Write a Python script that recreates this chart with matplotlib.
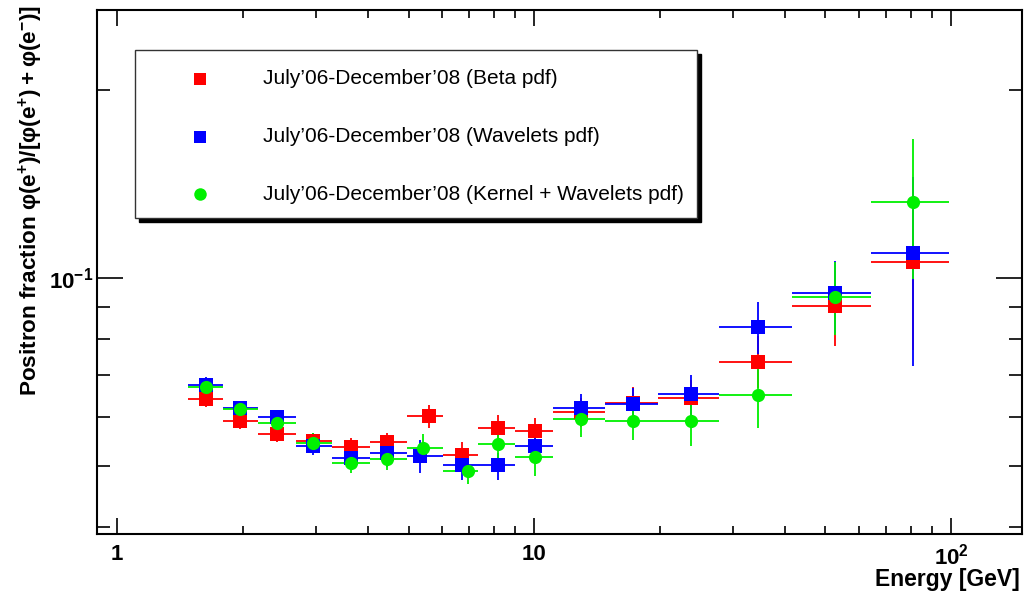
import numpy as np
import matplotlib
matplotlib.use('Agg')
import matplotlib.pyplot as plt
from matplotlib.lines import Line2D
from matplotlib.patches import Rectangle
from matplotlib.ticker import FixedLocator, NullFormatter

plt.rcParams['font.family'] = ['Liberation Sans', 'DejaVu Sans']
plt.rcParams['mathtext.fontset'] = 'custom'
plt.rcParams['mathtext.rm'] = 'Liberation Sans'
plt.rcParams['mathtext.bf'] = 'Liberation Sans:bold'

# energy bin edges [GeV]
bin_edges = [1.48, 1.79, 2.18, 2.69, 3.28, 4.04, 4.96, 6.05, 7.34, 9.0,
             11.1, 14.8, 19.8, 27.8, 41.5, 64.3, 98.9]

# Beta pdf
beta_x = [1.63, 1.97, 2.42, 2.95, 3.64, 4.44, 5.60, 6.72, 8.20, 10.06,
          12.96, 17.28, 23.8, 34.45, 52.7, 81.1]
beta_y = [0.0640, 0.0590, 0.0563, 0.0549, 0.0537, 0.0547, 0.0601, 0.0521,
          0.0575, 0.0569, 0.0610, 0.0631, 0.0643, 0.0734, 0.0902, 0.1061]
beta_lo = [0.0622, 0.0573, 0.0547, 0.0537, 0.0517, 0.0531, 0.0575, 0.0497,
           0.0551, 0.0543, 0.0578, 0.0595, 0.0601, 0.0667, 0.0778, 0.0767]
beta_hi = [0.0655, 0.0604, 0.0575, 0.0563, 0.0555, 0.0565, 0.0626, 0.0547,
           0.0604, 0.0597, 0.0643, 0.0669, 0.0687, 0.0808, 0.1026, 0.1383]

# Wavelets pdf
wav_x = [1.63, 1.97, 2.42, 2.95, 3.64, 4.44, 5.33, 6.72, 8.20, 10.06,
         12.96, 17.28, 23.8, 34.45, 52.7, 81.1]
wav_y = [0.0674, 0.0619, 0.0599, 0.0539, 0.0515, 0.0525, 0.0519, 0.0502,
         0.0502, 0.0539, 0.0619, 0.0629, 0.0652, 0.0835, 0.0946, 0.1096]
wav_lo = [0.0655, 0.0604, 0.0584, 0.0521, 0.0493, 0.0498, 0.0488, 0.0475,
          0.0475, 0.0511, 0.0588, 0.0593, 0.0601, 0.0756, 0.0817, 0.0723]
wav_hi = [0.0694, 0.0636, 0.0615, 0.0565, 0.0525, 0.0537, 0.0551, 0.0521,
          0.0525, 0.0573, 0.0652, 0.0667, 0.0699, 0.0915, 0.1065, 0.1451]

# Kernel + Wavelets pdf
ker_x = [1.63, 1.97, 2.42, 2.95, 3.64, 4.44, 5.42, 6.95, 8.20, 10.06,
         12.96, 17.28, 23.8, 34.45, 52.7, 81.1]
ker_y = [0.0669, 0.0617, 0.0586, 0.0545, 0.0506, 0.0513, 0.0535, 0.0491,
         0.0543, 0.0517, 0.0595, 0.0590, 0.0590, 0.0650, 0.0932, 0.1323]
ker_lo = [0.0655, 0.0604, 0.0573, 0.0531, 0.0488, 0.0493, 0.0508, 0.0468,
          0.0513, 0.0482, 0.0557, 0.0551, 0.0539, 0.0575, 0.0811, 0.0996]
ker_hi = [0.0684, 0.0631, 0.0601, 0.0565, 0.0525, 0.0533, 0.0563, 0.0511,
          0.0569, 0.0547, 0.0626, 0.0626, 0.0633, 0.0720, 0.1061, 0.1669]

labels = ["July’06-December’08 (Beta pdf)",
          "July’06-December’08 (Wavelets pdf)",
          "July’06-December’08 (Kernel + Wavelets pdf)"]

W, H = 1029, 594
fig = plt.figure(figsize=(W / 100, H / 100), dpi=100)
ax = fig.add_axes([97 / W, 1 - 534 / H, (1022 - 97) / W, (534 - 10) / H])
ax.set_xscale('log')
ax.set_yscale('log')
ax.set_xlim(0.895, 148)
ax.set_ylim(0.03894, 0.2685)

lo_e = np.array(bin_edges[:-1])
hi_e = np.array(bin_edges[1:])

series = [
    (beta_x, beta_y, beta_lo, beta_hi, '#ff0000', 's'),
    (wav_x, wav_y, wav_lo, wav_hi, '#0000ff', 's'),
    (ker_x, ker_y, ker_lo, ker_hi, '#00f000', 'o'),
]
for x, y, ylo, yhi, col, mk in series:
    x = np.array(x)
    y = np.array(y)
    xerr = [x - lo_e, hi_e - x]
    yerr = [y - np.array(ylo), np.array(yhi) - y]
    ax.errorbar(x, y, xerr=xerr, yerr=yerr, fmt=mk, color=col, ms=9.5,
                elinewidth=1.3, capsize=1.8, capthick=1.3, mew=0)

# axes / ticks in ROOT style
for sp in ax.spines.values():
    sp.set_linewidth(1.5)
ax.xaxis.set_major_locator(FixedLocator([1, 10, 100]))
ax.xaxis.set_minor_locator(FixedLocator([2, 3, 4, 5, 6, 7, 8, 9,
                                         20, 30, 40, 50, 60, 70, 80, 90]))
ax.yaxis.set_major_locator(FixedLocator([0.1]))
ax.yaxis.set_minor_locator(FixedLocator([0.04, 0.05, 0.06, 0.07, 0.08, 0.09, 0.2]))
ax.xaxis.set_minor_formatter(NullFormatter())
ax.yaxis.set_minor_formatter(NullFormatter())
ax.set_xticklabels(['1', '10', r'$\mathbf{10^{2}}$'])
ax.set_yticklabels([r'$\mathbf{10^{-1}}$'])
ax.tick_params(which='both', direction='in', top=True, right=True, width=1.2)
ax.tick_params(axis='x', which='major', length=11.5, pad=7, labelsize=16)
ax.tick_params(axis='x', which='minor', length=5.5)
ax.tick_params(axis='y', which='major', length=19, pad=3, labelsize=16)
ax.tick_params(axis='y', which='minor', length=9.5)
for t in ax.get_xticklabels() + ax.get_yticklabels():
    t.set_fontweight('bold')

# axis titles
fig.text(1020 / W, 1 - 586 / H, 'Energy [GeV]', ha='right', va='baseline',
         fontsize=16.5, fontweight='bold')
fig.text(31 / W, 1 - 5 / H,
         'Positron fraction $\\mathbf{φ(e^{+})/[φ(e^{+})+φ(e^{-})]}$',
         rotation=90, ha='center', va='top', fontsize=16.2, fontweight='bold')

# legend box with shadow
bx0, by0, bx1, by1 = 135, 50, 697, 218
fig.patches.append(Rectangle(((bx0 + 4) / W, 1 - (by1 + 4) / H), (bx1 - bx0) / W,
                             (by1 - by0) / H, transform=fig.transFigure,
                             facecolor='black', edgecolor='black', zorder=5))
fig.patches.append(Rectangle((bx0 / W, 1 - by1 / H), (bx1 - bx0) / W,
                             (by1 - by0) / H, transform=fig.transFigure,
                             facecolor='white', edgecolor='#333333', lw=1, zorder=6))
rows = [79, 137, 194]
for (x, y, ylo, yhi, col, mk), lab, ry in zip(series, labels, rows):
    fig.lines.append(Line2D([200 / W], [1 - ry / H], marker=mk, ms=9, mew=0,
                            color=col, transform=fig.transFigure, zorder=7))
    fig.text(263 / W, 1 - ry / H, lab, ha='left', va='center', fontsize=15,
             zorder=7)

fig.savefig('out.png', dpi=100)
